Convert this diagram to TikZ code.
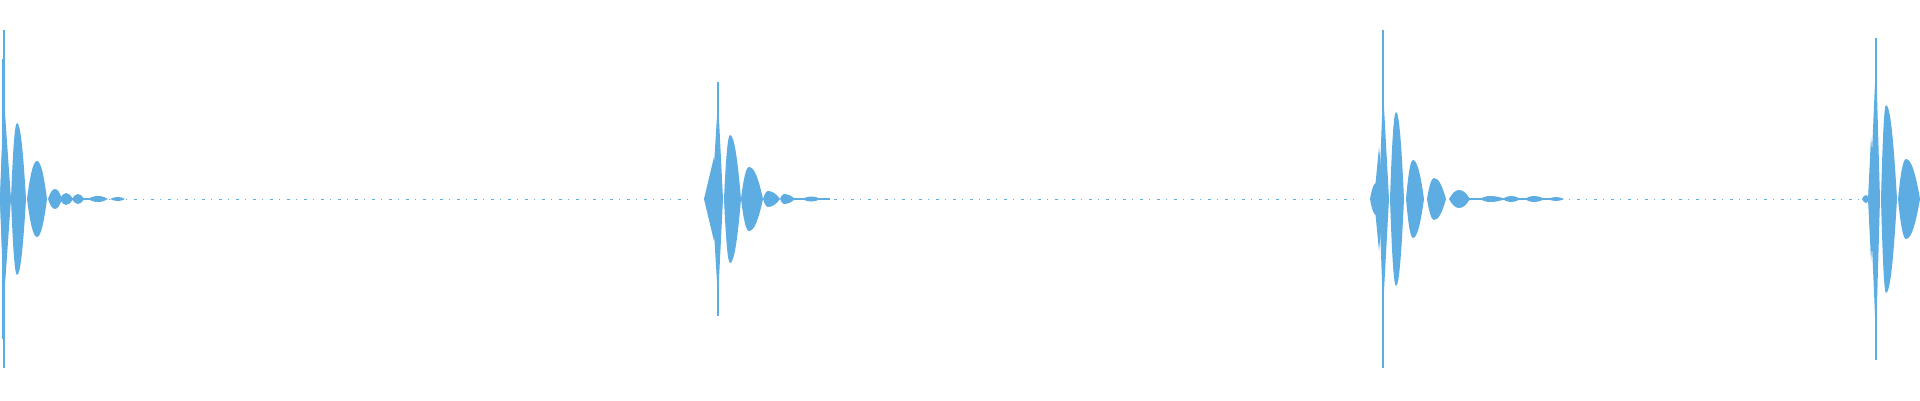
\documentclass[tikz,border=0pt]{standalone}
\begin{document}
\begin{tikzpicture}[x=1pt,y=-1pt]
\definecolor{wave}{RGB}{93,173,226}
\tikzset{tail/.style={draw=wave,line width=1pt,dash pattern=on 3pt off 6pt on 1pt off 7pt}}
\newcommand\wlobe[4]{\fill[wave] (#1,199) .. controls ({#1+0.3*(#2-#1)},{199-0.6*#4}) and ({#2-0.4*(#2-#1)},{199-#4}) .. (#2,{199-#4}) .. controls ({#2+0.4*(#3-#2)},{199-#4}) and ({#3-0.3*(#3-#2)},{199-0.6*#4}) .. (#3,199) .. controls ({#3-0.3*(#3-#2)},{199+0.6*#4}) and ({#2+0.4*(#3-#2)},{199+#4}) .. (#2,{199+#4}) .. controls ({#2-0.4*(#2-#1)},{199+#4}) and ({#1+0.3*(#2-#1)},{199+0.6*#4}) .. (#1,199) -- cycle;}
\newcommand\wspk[4]{\fill[wave] (#1,199) -- (#2,{199-#4}) -- (#3,199) -- (#2,{199+#4}) -- cycle;}
\newcommand\wbar[2]{\fill[wave] ({#1-0.8},{199-#2}) rectangle ({#1+0.8},{199+#2});}
\useasboundingbox (0,0) rectangle (1920,400);
% tails
\draw[tail] (100,199) -- (690,199);
\draw[tail] (800,199) -- (1360,199);
\draw[tail] (1560,199) -- (1860,199);
\draw[wave,line width=1.2pt] (60,199) -- (100,199);
\draw[wave,line width=1.2pt] (790,199) -- (830,199);
\draw[wave,line width=1.2pt] (1460,199) -- (1560,199);
% burst 1
\wspk{0}{2}{10}{55}
\wbar{4}{169}
\wbar{3}{140}
\wspk{0}{4}{11}{100}
\wlobe{11}{17}{26}{76}
\wlobe{27}{37}{47}{38}
\wlobe{48}{55}{62}{10}
\wlobe{60}{66}{73}{6}
\wlobe{72}{78}{84}{5}
\wlobe{88}{98}{108}{3}
\wlobe{110}{118}{125}{2}
% burst 2
\wspk{704}{714}{722}{42}
\wbar{718}{117}
\wspk{712}{718}{723}{100}
\wlobe{724}{730}{741}{64}
\wlobe{741}{749}{763}{32}
\wlobe{763}{768}{780}{8}
\wlobe{780}{784}{795}{5}
\wlobe{802}{812}{820}{2.5}
% burst 3
\wlobe{1370}{1376}{1382}{16}
\wspk{1374}{1379}{1384}{52}
\wbar{1383}{169}
\wspk{1379}{1383}{1389}{110}
\wlobe{1390}{1396}{1404}{87}
\wlobe{1406}{1413}{1424}{39}
\wlobe{1427}{1434}{1446}{21}
\wlobe{1449}{1459}{1470}{9}
\wlobe{1480}{1490}{1505}{3}
\wlobe{1502}{1512}{1520}{3}
\wlobe{1525}{1533}{1545}{3}
\wlobe{1548}{1556}{1564}{2}
% burst 4
\wlobe{1862}{1866}{1869}{4}
\wspk{1868}{1871}{1876}{62}
\wbar{1876}{161}
\wspk{1870}{1876}{1880}{140}
\wlobe{1881}{1886}{1897}{94}
\wlobe{1898}{1906}{1920}{40}
\end{tikzpicture}
\end{document}
